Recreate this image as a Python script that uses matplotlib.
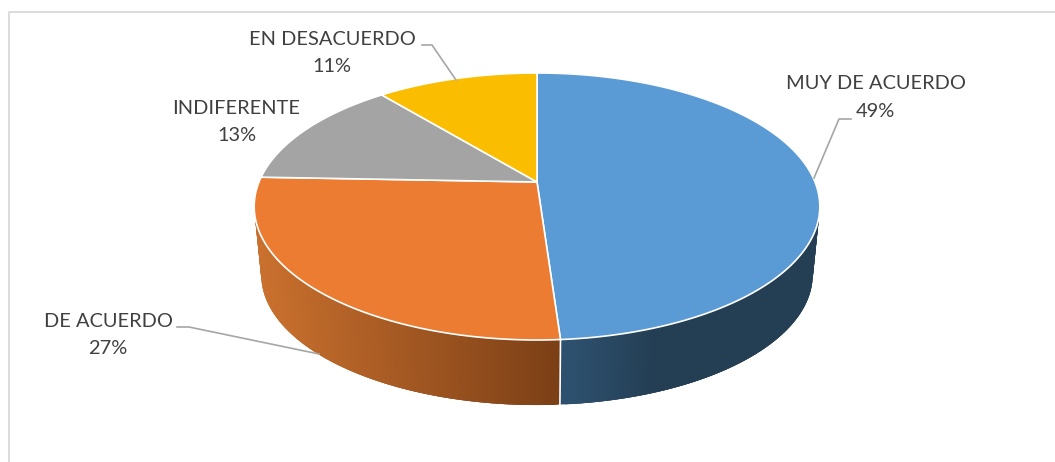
#3D style pie chart, drawn by hand because matplotlib has no perspective pie
import numpy as np
import matplotlib
matplotlib.use("Agg")
import matplotlib.pyplot as plt

#list values
labels = ["MUY DE ACUERDO", "DE ACUERDO", "INDIFERENTE", "EN DESACUERDO"]
values = [48.9, 26.7, 13.4, 11.0]
colors = ["#5B9BD5", "#EB7C31", "#A4A4A4", "#FBBD00"]

#geometry of the tilted disc, in pixels
cx, cy = 537, 182
width, height, tilt = 278, 129, 0.1835
wall_scale, wall_y = 0.975, 251

plt.rcParams["font.family"] = "Lato"
fig = plt.figure(figsize=(10.55, 4.62), dpi=100, facecolor="white")
ax = fig.add_axes([0, 0, 1, 1])
ax.set_xlim(0, 1055)
ax.set_ylim(462, 0)
ax.axis("off")

#frame of the chart, only top and left show
ax.plot([8.5, 8.5, 1055], [462, 12, 12], color="#D9D9D9", lw=1.3)


#pie angle (from 12 o'clock, clockwise) to picture position
def project(angle, scale=1.0, y0=cy):
    u, v = np.sin(angle), np.cos(angle)
    d = 1 + tilt * v
    return cx + scale * width * u / d, y0 - scale * height * v / d


edges = np.cumsum([0] + values) / sum(values) * 2 * np.pi


#side wall colours follow the picture x
def wall_color(i, x):
    if i == 0:
        stops = ([560, 650], [(0.18, 0.32, 0.44), (0.14, 0.245, 0.33)])
    else:
        stops = ([258, 560], [(0.79, 0.44, 0.18), (0.48, 0.245, 0.085)])
    return tuple(np.interp(x, stops[0], [s[k] for s in stops[1]]) for k in range(3))


#only the two front slices show a wall, strips overlap so no seams show
for i in range(2):
    t = np.linspace(edges[i], edges[i + 1], 200)
    for a, b in zip(t[:-3], t[3:]):
        xa, ya = project(a)
        xb, yb = project(b)
        xc, yc = project(b, wall_scale, wall_y)
        xd, yd = project(a, wall_scale, wall_y)
        c = wall_color(i, (xa + xb) / 2)
        ax.fill([xa, xb, xc, xd], [ya, yb, yc, yd], color=c, lw=0, zorder=2 + i * 0.1)

#white split between the two walls
x1, y1 = project(edges[1])
x2, y2 = project(edges[1], wall_scale, wall_y)
ax.plot([x1, x2], [y1, y2], color="white", lw=1.2, zorder=3)

#top face
for i in range(len(values)):
    t = np.linspace(edges[i], edges[i + 1], 300)
    xs, ys = project(t)
    ax.fill(np.r_[cx, xs], np.r_[cy, ys], facecolor=colors[i], edgecolor="white",
            lw=1.2, joinstyle="round", zorder=4)

#labels
label_pos = [(875.5, 97.5), (108, 335), (236.5, 122), (332, 53)]
for name, v, (x, y) in zip(labels, values, label_pos):
    ax.text(x, y, f"{name}\n{v:.0f}%", ha="center", va="center", fontsize=14.4,
            color="#404040", linespacing=1.78, zorder=6)

#leader lines
leaders = [
    ([851, 839, 814], [119, 119, 178]),
    ([177, 189, 319], [327, 327, 354]),
    ([422, 432, 456], [45, 45, 80]),
]
for xs, ys in leaders:
    ax.plot(xs, ys, color="#A6A6A6", lw=1.2, zorder=5)

fig.savefig("out.png", dpi=100, facecolor="white")
